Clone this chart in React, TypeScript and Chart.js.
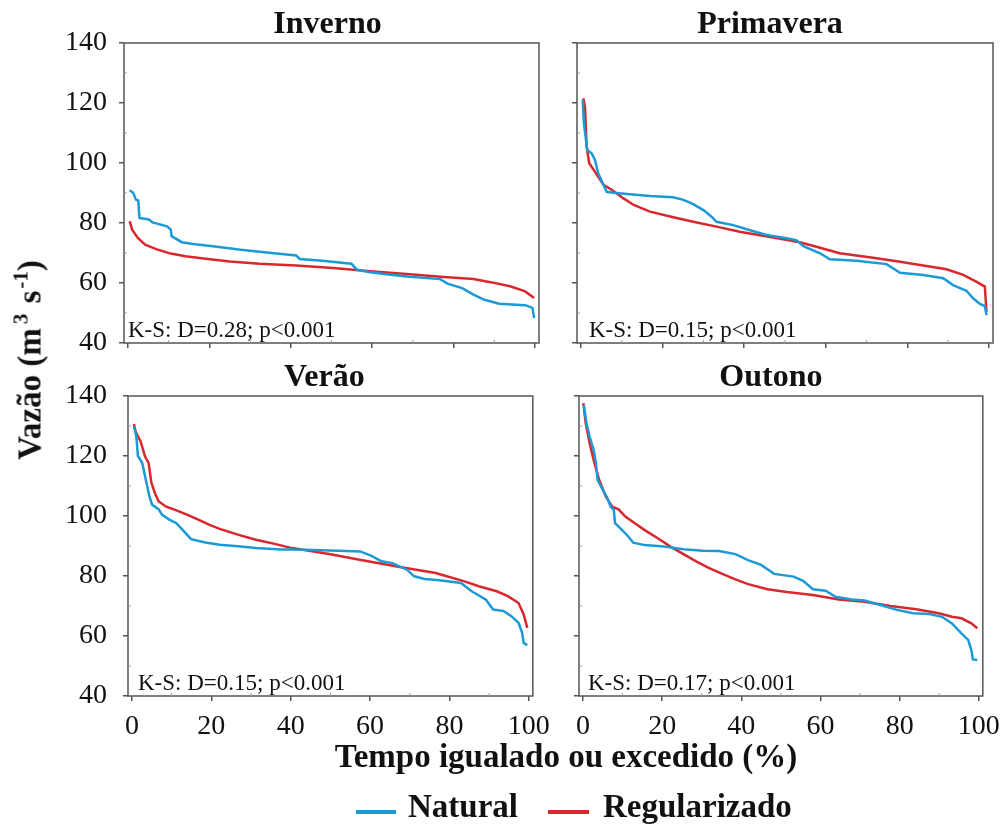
import React, { useEffect, useRef } from 'react';
import { Chart, registerables } from 'chart.js';

Chart.register(...registerables);

const FONT = "'Liberation Serif', 'Times New Roman', Times, serif";
const BLUE = '#1b9ad6';
const RED = '#d9272e';

const xTicks = [0, 20, 40, 60, 80, 100];
const yTicks = [40, 60, 80, 100, 120, 140];
const xMinor = [10, 30, 50, 70, 90];
const yMinor = [50, 70, 90, 110, 130];

// Inverno
const invernoNaturalX = [0.4, 1.3, 1.9, 2.5, 2.8, 5.1, 6.0, 9.6, 10.5, 10.7, 13.2, 16, 21.4, 27.7, 34.1, 41.3, 42.2, 47.7, 54.9, 56.3, 59.5, 64, 68.5, 76.7, 78.5, 82.1, 84.9, 87.6, 91.2, 97.6, 99.4, 99.8];
const invernoNaturalY = [90.9, 90.0, 87.8, 87.5, 81.7, 81.2, 80.2, 78.9, 77.8, 75.6, 73.6, 73, 72.2, 71.1, 70.2, 69.2, 68, 67.4, 66.4, 64.4, 63.6, 62.8, 62.2, 61.3, 59.8, 58.3, 56.1, 54.4, 53.1, 52.6, 51.7, 48.3];
const invernoRegX = [0.4, 1, 2.4, 4.2, 6.9, 10.5, 14.1, 19.6, 25, 32.3, 41.3, 50.4, 59.5, 68.5, 77.6, 84.9, 89.4, 93.9, 97.6, 99.8];
const invernoRegY = [80.6, 77.8, 75, 72.8, 71.3, 69.8, 68.9, 68, 67.2, 66.4, 65.8, 65, 63.9, 63, 62, 61.3, 60.2, 58.9, 57.2, 55];

// Primavera
const primaveraNaturalX = [0.4, 0.7, 1.2, 1.5, 2.6, 3.4, 4.2, 5.5, 6.3, 7.9, 12, 16.9, 22.6, 25.1, 27.5, 30, 32, 33.2, 37.3, 40.6, 45.5, 50.4, 52.8, 54.5, 58.6, 61, 67.5, 74.9, 78.2, 83.9, 88.8, 91.2, 94.5, 96.1, 97.8, 99, 99.4];
const primaveraNaturalY = [121, 113.2, 107.7, 104.3, 103.2, 101, 96.6, 92.7, 90.4, 90.1, 89.6, 89, 88.6, 87.7, 86.3, 84.3, 82.1, 80.4, 79.3, 77.9, 76, 74.9, 74.3, 72.3, 69.9, 67.9, 67.4, 66.3, 63.4, 62.7, 61.6, 59.3, 57.4, 54.9, 53, 52.3, 49.3];
const primaveraRegX = [0.55, 0.96, 1.37, 2.0, 3.4, 5.5, 7.6, 10.4, 12.9, 16.9, 22.6, 27.5, 33.2, 38.9, 47.1, 53.6, 57.7, 63.4, 71.6, 78.2, 83.9, 89.6, 93.7, 97, 99, 99.4];
const primaveraRegY = [121.6, 118.8, 105.4, 99.9, 97.1, 92.7, 91, 88.2, 86, 83.8, 81.9, 80.4, 78.8, 77.1, 75.2, 73.6, 72.1, 69.9, 68.4, 67.1, 65.8, 64.6, 62.7, 60.4, 58.8, 50.4];

// Verão
const veraoNaturalX = [0.5, 1.1, 1.5, 2.6, 3.5, 4.4, 5.1, 6.7, 7.6, 9.4, 11.2, 13.1, 14.9, 18.5, 22.1, 26.7, 31.2, 37.5, 40.3, 45.7, 52, 57.5, 60.2, 62.9, 65.6, 69.3, 71.1, 73.8, 77.4, 82.9, 85.6, 89.2, 91, 93.7, 95.6, 97.4, 98.3, 98.7, 99.6];
const veraoNaturalY = [130, 126.5, 120, 117.6, 112, 106.5, 103.7, 102.3, 100.4, 98.8, 97.6, 94.9, 92.3, 91.2, 90.4, 89.9, 89.3, 88.8, 88.8, 88.7, 88.4, 88.2, 86.8, 84.9, 84.3, 82.1, 79.9, 79, 78.6, 77.7, 74.9, 72.1, 68.8, 68.3, 66.6, 64.4, 61.1, 57.7, 56.9];
const veraoRegX = [0.5, 0.9, 2.2, 3.3, 4.2, 4.9, 5.8, 6.7, 8.5, 11.2, 14, 16.7, 19.4, 22.1, 26.7, 31.2, 35.7, 40.3, 49.3, 58.4, 67.5, 76.5, 83.8, 87.4, 91.9, 94.7, 97.4, 98.7, 99.6];
const veraoRegY = [130.7, 128.1, 124.8, 119.8, 117.6, 111, 107.6, 104.9, 103.2, 101.9, 100.4, 98.8, 97.1, 95.7, 93.8, 92.1, 90.8, 89.3, 87.4, 85.2, 83, 81, 78.2, 76.6, 74.9, 73.3, 71, 67.2, 62.7];

// Outono
const outonoNaturalX = [0.2, 0.9, 1.7, 2.7, 3.3, 3.7, 5, 6.2, 7, 7.8, 8.1, 9.9, 11.5, 12.7, 15.6, 20.5, 25.4, 30.3, 34.4, 38.5, 41.7, 45, 48.3, 53.2, 55.6, 58.1, 61.3, 63.8, 67.9, 71.1, 76, 79.3, 83.4, 87.5, 90.7, 93.2, 95.6, 97.3, 98.1, 98.5, 99.6];
const outonoNaturalY = [137, 130.9, 126.4, 122, 117.6, 112, 108.7, 105.9, 103.1, 102, 97.6, 95.3, 93.1, 91.1, 90.3, 89.8, 88.9, 88.4, 88.3, 87.3, 85.3, 83.7, 80.7, 79.8, 78.4, 75.6, 75.1, 73.1, 72.2, 71.8, 70, 68.7, 67.6, 67.3, 66.4, 64.2, 60.9, 58.7, 55.3, 52.2, 52];
const outonoRegX = [0.1, 0.7, 1.7, 2.9, 4.1, 5.8, 7.4, 9, 10.7, 13.1, 15.6, 18.9, 22.1, 25.4, 28.7, 31.9, 35.2, 38.5, 41.7, 46.6, 51.5, 58.1, 64.6, 71.1, 77.7, 84.2, 89.9, 93.2, 95.6, 98.1, 99.6];
const outonoRegY = [137.6, 130.9, 124.2, 117.6, 112, 106.4, 103.1, 102.2, 99.8, 97.6, 95.3, 92.6, 89.8, 87.3, 84.8, 82.6, 80.7, 78.9, 77.3, 75.6, 74.7, 73.7, 72.2, 71.4, 70, 68.9, 67.6, 66.4, 65.9, 64.2, 62.6];

type PanelCfg = {
  title: string;
  ks: string;
  natX: number[];
  natY: number[];
  regX: number[];
  regY: number[];
  left: number;
  top: number;
  right: number;
  bottom: number;
  showX: boolean;
  showY: boolean;
  titleDx: number;
  ksDx: number;
  yPad: number;
};

const panels: PanelCfg[] = [
  { title: 'Inverno', ks: 'K-S: D=0.28; p<0.001', natX: invernoNaturalX, natY: invernoNaturalY, regX: invernoRegX, regY: invernoRegY, left: 124, top: 43, right: 539, bottom: 343, showX: false, showY: true, titleDx: -4, ksDx: 4, yPad: 12 },
  { title: 'Primavera', ks: 'K-S: D=0.15; p<0.001', natX: primaveraNaturalX, natY: primaveraNaturalY, regX: primaveraRegX, regY: primaveraRegY, left: 577, top: 43, right: 993, bottom: 343, showX: false, showY: false, titleDx: -15, ksDx: 12, yPad: 12 },
  { title: 'Verão', ks: 'K-S: D=0.15; p<0.001', natX: veraoNaturalX, natY: veraoNaturalY, regX: veraoRegX, regY: veraoRegY, left: 128, top: 396, right: 544, bottom: 696, showX: true, showY: true, titleDx: -6, ksDx: 10, yPad: 16 },
  { title: 'Outono', ks: 'K-S: D=0.17; p<0.001', natX: outonoNaturalX, natY: outonoNaturalY, regX: outonoRegX, regY: outonoRegY, left: 579, top: 396, right: 994, bottom: 696, showX: true, showY: false, titleDx: -10, ksDx: 9, yPad: 12 },
];

const PAD_L = 120;
const PAD_T = 43;
const PAD_R = 15;
const PAD_B = 50;

function Panel({ cfg }: { cfg: PanelCfg }) {
  const ref = useRef<HTMLCanvasElement | null>(null);
  const w = cfg.right - cfg.left + PAD_L + PAD_R;
  const h = cfg.bottom - cfg.top + PAD_T + PAD_B;

  useEffect(() => {
    if (!ref.current) return;
    const framePlugin = {
      id: 'frameAndText',
      afterDraw(chart: any) {
        const { ctx, chartArea } = chart;
        const { left, top, right, bottom } = chartArea;
        const xs = chart.scales.x;
        const ys = chart.scales.y;
        ctx.save();
        ctx.strokeStyle = '#555';
        ctx.lineWidth = 1.5;
        ctx.strokeRect(left, top, right - left, bottom - top);
        ctx.strokeStyle = '#999';
        ctx.lineWidth = 1;
        xMinor.forEach((v) => {
          const p = xs.getPixelForValue(v);
          ctx.beginPath();
          ctx.moveTo(p, bottom);
          ctx.lineTo(p, bottom - 3);
          ctx.stroke();
        });
        yMinor.forEach((v) => {
          const p = ys.getPixelForValue(v);
          ctx.beginPath();
          ctx.moveTo(left, p);
          ctx.lineTo(left + 3, p);
          ctx.stroke();
        });
        ctx.fillStyle = '#111';
        ctx.textBaseline = 'alphabetic';
        ctx.textAlign = 'center';
        ctx.font = `bold 32px ${FONT}`;
        ctx.fillText(cfg.title, (left + right) / 2 + cfg.titleDx, top - 10);
        ctx.textAlign = 'left';
        ctx.font = `23px ${FONT}`;
        ctx.fillText(cfg.ks, left + cfg.ksDx, bottom - 6);
        ctx.restore();
      },
    };

    const chart = new Chart(ref.current, {
      type: 'line',
      data: {
        datasets: [
          {
            label: 'Natural',
            data: cfg.natX.map((x, i) => ({ x, y: cfg.natY[i] })),
            borderColor: BLUE,
            borderWidth: 2.5,
            pointRadius: 0,
            tension: 0,
            fill: false,
          },
          {
            label: 'Regularizado',
            data: cfg.regX.map((x, i) => ({ x, y: cfg.regY[i] })),
            borderColor: RED,
            borderWidth: 2.5,
            pointRadius: 0,
            tension: 0,
            fill: false,
          },
        ],
      },
      options: {
        responsive: false,
        animation: false,
        events: [],
        layout: { padding: { top: PAD_T, right: PAD_R, left: 0, bottom: 0 }, autoPadding: false },
        plugins: { legend: { display: false }, tooltip: { enabled: false }, title: { display: false } },
        scales: {
          x: {
            type: 'linear',
            min: -1,
            max: 101,
            afterBuildTicks: (s: any) => {
              s.ticks = xTicks.map((v) => ({ value: v }));
            },
            afterFit: (s: any) => {
              s.height = PAD_B;
            },
            ticks: { display: cfg.showX, font: { family: FONT, size: 28 }, color: '#111', padding: 9, maxRotation: 0, autoSkip: false },
            grid: { drawOnChartArea: false, drawTicks: true, tickLength: 5, color: '#555', lineWidth: 1.5 },
            border: { display: false },
          },
          y: {
            type: 'linear',
            min: 40,
            max: 140,
            afterBuildTicks: (s: any) => {
              s.ticks = yTicks.map((v) => ({ value: v }));
            },
            afterFit: (s: any) => {
              s.width = PAD_L;
            },
            ticks: { display: cfg.showY, font: { family: FONT, size: 28 }, color: '#111', padding: cfg.yPad, autoSkip: false },
            grid: { drawOnChartArea: false, drawTicks: true, tickLength: 5, color: '#555', lineWidth: 1.5 },
            border: { display: false },
          },
        },
      } as any,
      plugins: [framePlugin],
    });
    return () => chart.destroy();
  }, [cfg]);

  return (
    <canvas
      ref={ref}
      width={w}
      height={h}
      style={{ position: 'absolute', left: cfg.left - PAD_L, top: cfg.top - PAD_T, width: w, height: h }}
    />
  );
}

export default function App() {
  const bold = `bold 33px ${FONT}`;
  return (
    <div style={{ position: 'absolute', left: 0, top: 0, width: 1008, height: 826, background: '#fff', overflow: 'hidden' }}>
      {panels.map((p) => (
        <Panel key={p.title} cfg={p} />
      ))}
      <div
        style={{
          position: 'absolute',
          left: 32,
          top: 360,
          transform: 'translate(-50%, -50%) rotate(-90deg)',
          font: bold,
          lineHeight: '33px',
          whiteSpace: 'nowrap',
          color: '#111',
        }}
      >
        Vazão (m<span style={{ fontSize: 21, position: 'relative', top: -13, margin: '0 2px 0 4px' }}>3</span> s
        <span style={{ fontSize: 21, position: 'relative', top: -13, marginLeft: 2 }}>-1</span>)
      </div>
      <div
        style={{
          position: 'absolute',
          left: 566,
          top: 740,
          transform: 'translateX(-50%)',
          font: bold,
          lineHeight: '33px',
          whiteSpace: 'nowrap',
          color: '#111',
        }}
      >
        Tempo igualado ou excedido (%)
      </div>
      <div style={{ position: 'absolute', left: 356, top: 810, width: 40, height: 4, background: BLUE }} />
      <div style={{ position: 'absolute', left: 408, top: 790, font: `bold 33px ${FONT}`, lineHeight: '33px', whiteSpace: 'nowrap', color: '#111' }}>
        Natural
      </div>
      <div style={{ position: 'absolute', left: 548, top: 810, width: 41, height: 4, background: RED }} />
      <div style={{ position: 'absolute', left: 603, top: 790, font: `bold 33px ${FONT}`, lineHeight: '33px', whiteSpace: 'nowrap', color: '#111' }}>
        Regularizado
      </div>
    </div>
  );
}
